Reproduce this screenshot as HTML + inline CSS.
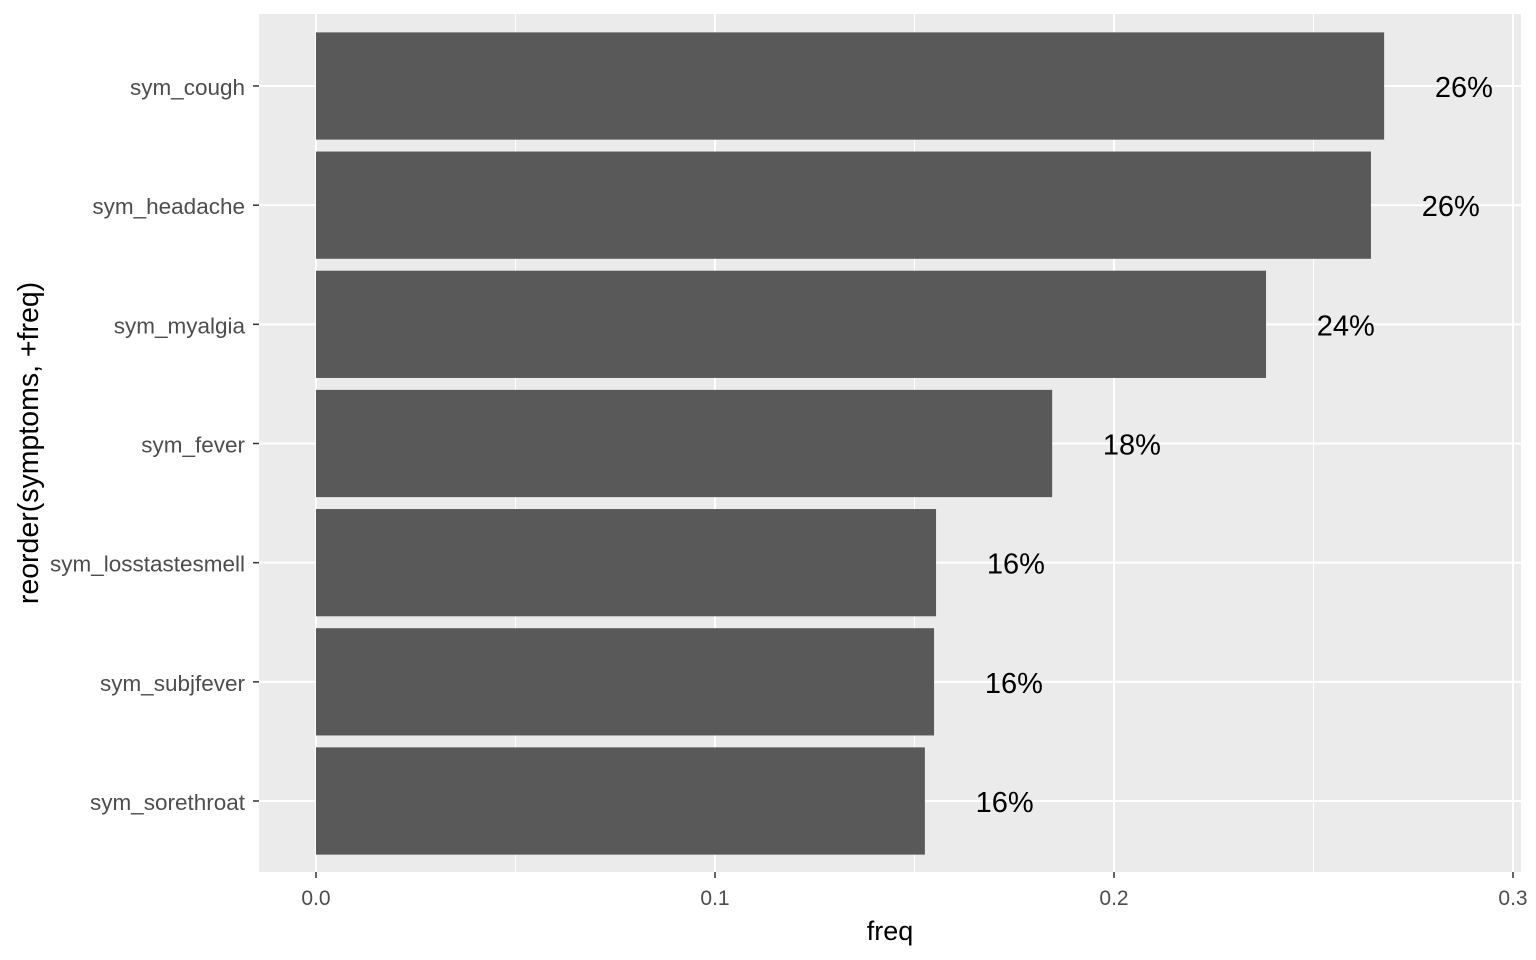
<!DOCTYPE html>
<html><head><meta charset="utf-8"><style>
body{margin:0;background:#fff;}
svg{display:block;font-family:"Liberation Sans",Arial,sans-serif;}
</style></head><body>
<svg id="chart" width="1536" height="960"></svg>
<script>
const categories=["sym_cough","sym_headache","sym_myalgia","sym_fever","sym_losstastesmell","sym_subjfever","sym_sorethroat"];
const freqValues=[0.2677,0.2644,0.2381,0.1845,0.1554,0.1549,0.1526];
const valueLabels=["26%","26%","24%","18%","16%","16%","16%"];
const xTicks=[0,0.1,0.2,0.3];
const xTickLabels=["0.0","0.1","0.2","0.3"];

const NS="http://www.w3.org/2000/svg";
const svg=document.getElementById('chart');
const P={l:259,r:1521,t:14,b:872};
const x=v=>316+v*3990;
const step=(P.b-P.t)/(categories.length+0.2);
const y=i=>P.t+0.5+step*(0.6+i);
function mk(tag,attrs,parent){const e=document.createElementNS(NS,tag);for(const k in attrs)e.setAttribute(k,attrs[k]);(parent||svg).appendChild(e);return e;}

const bg=mk('rect',{x:P.l,y:P.t,width:P.r-P.l,height:P.b-P.t,fill:'#ebebeb'});


for(let i=0;i<xTicks.length-1;i++){
  const m=(xTicks[i]+xTicks[i+1])/2;
  const g=mk('line',{x1:x(m),x2:x(m),y1:P.t,y2:P.b,stroke:'#fff','stroke-width':1});
  
  
}
xTicks.forEach((t,i)=>{
  const g=mk('line',{x1:x(t),x2:x(t),y1:P.t,y2:P.b,stroke:'#fff','stroke-width':2});
  
  
  const tk=mk('line',{x1:x(t),x2:x(t),y1:P.b,y2:P.b+6,stroke:'#333','stroke-width':1.5});
  
  
  const tl=mk('text',{x:x(t),y:P.b+33,'text-anchor':'middle','font-size':21,fill:'#4d4d4d'});
  tl.textContent=xTickLabels[i];
  
  
});
categories.forEach((c,i)=>{
  const cy=y(i);
  const g=mk('line',{x1:P.l,x2:P.r,y1:cy,y2:cy,stroke:'#fff','stroke-width':2});
  
  
  const h=step*0.9;
  const b=mk('rect',{x:x(0),y:cy-h/2,width:x(freqValues[i])-x(0),height:h,fill:'#595959'});
  
  
  const lab=mk('text',{x:x(freqValues[i]+0.02),y:cy+11,'text-anchor':'middle','font-size':29,fill:'#000'});
  lab.textContent=valueLabels[i];
  
  
  const tk=mk('line',{x1:P.l-6,x2:P.l,y1:cy,y2:cy,stroke:'#333','stroke-width':1.5});
  
  
  const tl=mk('text',{x:P.l-14,y:cy+9,'text-anchor':'end','font-size':22.5,fill:'#4d4d4d'});
  tl.textContent=c;
  
  
});
const xt=mk('text',{x:(P.l+P.r)/2,y:940,'text-anchor':'middle','font-size':27,fill:'#000'});
xt.textContent='freq';


const yt=mk('text',{x:0,y:0,'text-anchor':'middle','font-size':28.5,fill:'#000',transform:'translate(38,'+((P.t+P.b)/2)+') rotate(-90)'});
yt.textContent='reorder(symptoms, +freq)';


</script>
</body></html>
